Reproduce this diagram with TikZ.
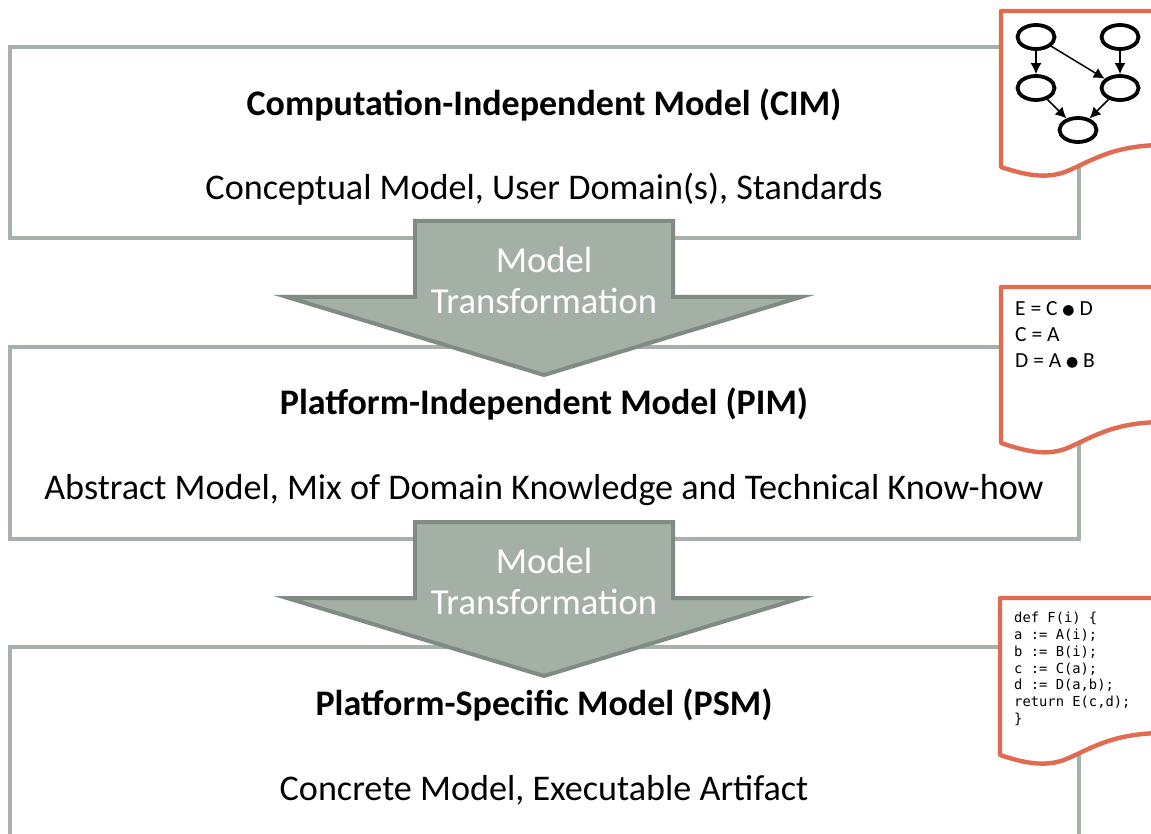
\documentclass[tikz,border=0pt]{standalone}
\usepackage{fontspec}
\setmainfont{Carlito}
\setmonofont{DejaVu Sans Mono}
\newfontfamily\symfont{DejaVu Sans}
\usetikzlibrary{arrows.meta,shapes.geometric}
\definecolor{boxline}{HTML}{A6B2A9}
\definecolor{arrfill}{HTML}{A4B0A6}
\definecolor{arrline}{HTML}{7F8C82}
\definecolor{docline}{HTML}{E06B50}
\tikzset{
  x=1pt,y=-1pt,
  modelbox/.style={draw=boxline,line width=4pt,fill=white,rectangle,inner sep=0pt,outer sep=0pt,minimum width=1069pt,anchor=north west},
  titletext/.style={font=\fontsize{36}{40}\selectfont\bfseries,text=black,inner sep=0pt},
  subtext/.style={font=\fontsize{36.15}{40}\selectfont,text=black,inner sep=0pt},
  arrtext/.style={font=\fontsize{36.6}{40}\selectfont,text=white,inner sep=0pt},
  bigarrow/.style={fill=arrfill,draw=arrline,line width=4pt,miter limit=20},
  docshape/.style={fill=white,draw=docline,line width=4.4pt,line join=round},
  gnode/.style={draw=black,line width=3.8pt,ellipse,minimum width=37pt,minimum height=24pt,inner sep=0pt,fill=white},
  gedge/.style={draw=black,line width=1.5pt,-{Latex[length=11pt,width=11pt]}},
  eqtext/.style={font=\fontsize{21.5}{24}\selectfont,text=black,inner sep=0pt,anchor=west},
  codetext/.style={font=\fontsize{13.8}{16.8}\ttfamily\selectfont,text=black,inner sep=0pt,anchor=north west,align=left},
}
\newcommand{\mybul}{\raisebox{1.5pt}{\symfont\fontsize{14}{20}\selectfont ●}}
\begin{document}
\begin{tikzpicture}
\useasboundingbox (0,0) rectangle (1151,834);
\clip (0,0) rectangle (1151,834);
\fill[white] (0,0) rectangle (1151,834);

% model boxes
\node[modelbox,minimum height=191pt] (cim) at (10,47) {};
\node[modelbox,minimum height=192pt] (pim) at (10,347) {};
\node[modelbox,minimum height=260pt] (psm) at (10,647) {};

\node[titletext] (cimt) at (544,105) {Computation-Independent Model (CIM)};
\node[subtext] (cims) at (544,189) {Conceptual Model, User Domain(s), Standards};
\node[titletext] (pimt) at (544,404) {Platform-Independent Model (PIM)};
\node[subtext] (pims) at (544,490) {Abstract Model, Mix of Domain Knowledge and Technical Know-how};
\node[titletext] (psmt) at (544,705) {Platform-Specific Model (PSM)};
\node[subtext] (psms) at (544,790) {Concrete Model, Executable Artifact};

% transformation arrows
\draw[bigarrow] (415,221) -- (673,221) -- (673,297) -- (801,297) -- (544,375) -- (287,297) -- (415,297) -- cycle;
\node[arrtext] (a1) at (544,260) {Model};
\node[arrtext] (a2) at (544,301) {Transformation};
\draw[bigarrow] (415,522) -- (673,522) -- (673,598) -- (801,598) -- (544,676) -- (287,598) -- (415,598) -- cycle;
\node[arrtext] (b1) at (544,561) {Model};
\node[arrtext] (b2) at (544,602) {Transformation};

% documents
\draw[docshape] (1160,11) -- (1001,11) -- (1001,167) .. controls (1025,175) and (1045,179) .. (1065,172) .. controls (1090,162) and (1110,146) .. (1160,145);
\draw[docshape] (1160,287) -- (1001,287) -- (1001,443) .. controls (1025,451) and (1045,456) .. (1065,449) .. controls (1090,439) and (1110,423) .. (1160,422);
\draw[docshape] (1160,598) -- (1000,598) -- (1000,755) .. controls (1024,763) and (1044,767) .. (1064,760) .. controls (1089,750) and (1109,734) .. (1160,733);

% graph
\node[gnode] (g1) at (1036,37) {};
\node[gnode] (g2) at (1120,37) {};
\node[gnode] (g3) at (1036,88) {};
\node[gnode] (g4) at (1120,88) {};
\node[gnode] (g5) at (1078,130) {};
\draw[gedge] (g1) -- (g3);
\draw[gedge] (g1) -- (g4);
\draw[gedge] (g2) -- (g4);
\draw[gedge] (g3) -- (g5);
\draw[gedge] (g4) -- (g5);

% equations
\node[eqtext] (e1) at (1015,309) {E = C \mybul{} D};
\node[eqtext] (e2) at (1015,335) {C = A};
\node[eqtext] (e3) at (1015,361) {D = A \mybul{} B};

% code
\node[codetext] (code) at (1014,612) {def F(i) \{\\a := A(i);\\b := B(i);\\c := C(a);\\d := D(a,b);\\return E(c,d);\\\}};
\end{tikzpicture}
\end{document}
